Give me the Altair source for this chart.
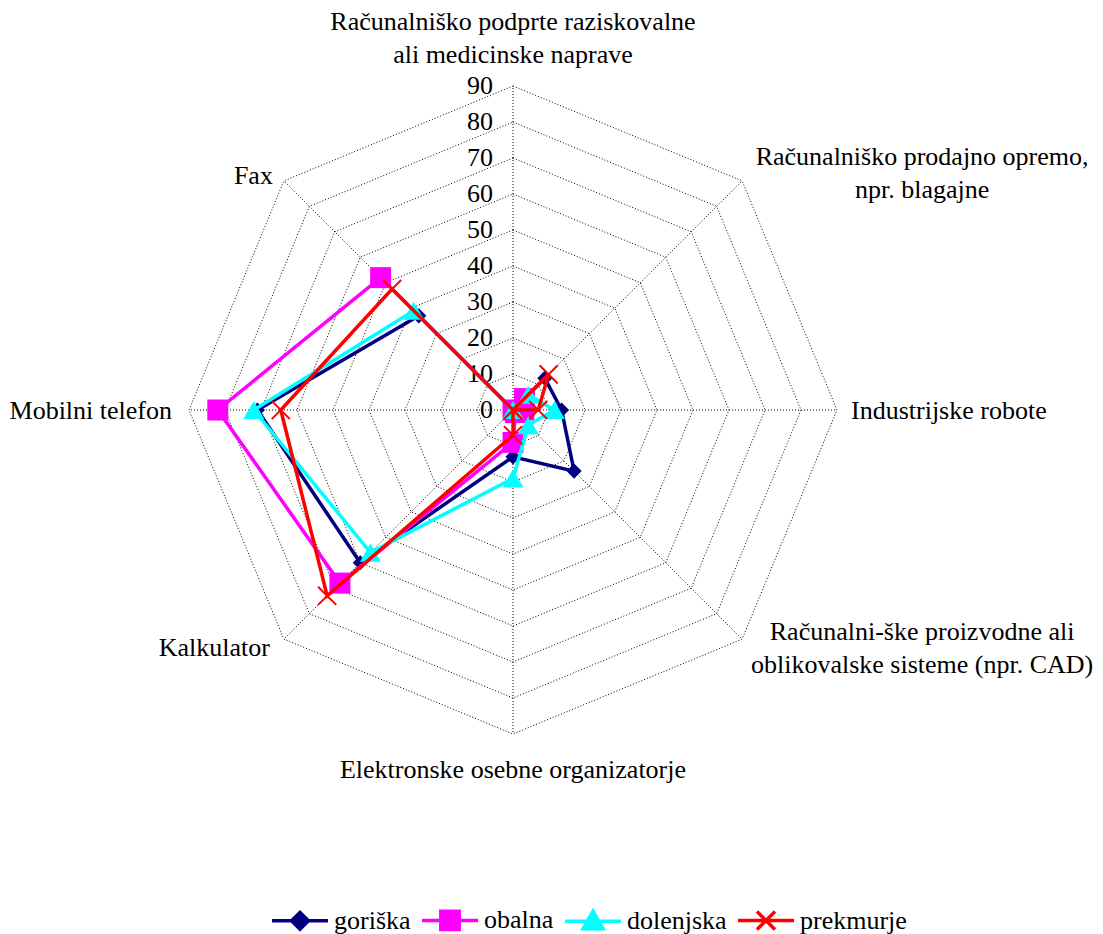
import altair as alt
import pandas as pd

# ---------------- data ----------------
categories = [
    "Računalniško podprte raziskovalne ali medicinske naprave",
    "Računalniško prodajno opremo, npr. blagajne",
    "Industrijske robote",
    "Računalni-ške proizvodne ali oblikovalske sisteme (npr. CAD)",
    "Elektronske osebne organizatorje",
    "Kalkulator",
    "Mobilni telefon",
    "Fax",
]
category_labels = [
    "Računalniško podprte raziskovalne\nali medicinske naprave",
    "Računalniško prodajno opremo,\nnpr. blagajne",
    "Industrijske robote",
    "Računalni-ške proizvodne ali\noblikovalske sisteme (npr. CAD)",
    "Elektronske osebne organizatorje",
    "Kalkulator",
    "Mobilni telefon",
    "Fax",
]
series_names = ["goriška", "obalna", "dolenjska", "prekmurje"]
goriska = [0, 12.5, 13.5, 24, 13, 60, 71, 37]
obalna = [0, 4.5, 3, 1, 9, 68, 82, 52]
dolenjska = [0, 6, 11.5, 6, 19, 56, 72, 39]
prekmurje = [0, 14, 7, 0, 7, 73, 64.5, 47.5]
tick_values = [0, 10, 20, 30, 40, 50, 60, 70, 80, 90]

series_values = [goriska, obalna, dolenjska, prekmurje]

# ---------------- tables ----------------
rows = []
for s, vals in zip(series_names, series_values):
    for i, v in enumerate(vals):
        rows.append({"series": s, "idx": i, "category": categories[i], "value": v})
series_df = pd.DataFrame(rows)

grid_df = pd.DataFrame(
    [{"level": lv, "idx": i, "value": lv} for lv in tick_values[1:] for i in range(len(categories))]
)
spoke_df = pd.DataFrame([{"idx": i, "value": tick_values[-1]} for i in range(len(categories))])
tick_df = pd.DataFrame({"value": tick_values, "label": [str(t) for t in tick_values]})
label_df = pd.DataFrame(
    {"idx": list(range(len(categories))), "label": category_labels, "value": tick_values[-1]}
)

# ---------------- styling / layout ----------------
FONT = "Liberation Serif"
FS = 26
W, H = 1087, 926
CX, CY, K = 505, 402, 3.6  # centre of the radar in plot px, px per unit
xs = alt.Scale(domain=[-CX / K, (W - CX) / K], nice=False, zero=False)
ys = alt.Scale(domain=[-(H - CY) / K, CY / K], nice=False, zero=False)

colors = ["#000080", "#FF00FF", "#00FFFF", "#FF0000"]
x_path = "M-1,-1L1,1M-1,1L1,-1"
marker_shapes = ["diamond", "square", "triangle-up", x_path]
marker_sizes = [230, 440, 440, 330]
legend_paths = [
    "M-1.4,0H1.4M0,-0.42L0.42,0L0,0.42L-0.42,0Z",
    "M-1.4,0H1.4M-0.46,-0.46H0.46V0.46H-0.46Z",
    "M-1.4,0H1.4M0,-0.5L0.5,0.38H-0.5Z",
    "M-1.4,0H1.4M-0.45,-0.45L0.45,0.45M-0.45,0.45L0.45,-0.45",
]


def polar(ch):
    return ch.transform_calculate(
        x="datum.value * sin(datum.idx * PI / 4)",
        y="datum.value * cos(datum.idx * PI / 4)",
    )


X = alt.X("x:Q", scale=xs, axis=None)
Y = alt.Y("y:Q", scale=ys, axis=None)

rings = polar(alt.Chart(grid_df)).mark_line(
    interpolate="linear-closed", color="black", strokeWidth=1, strokeDash=[1, 2]
).encode(x=X, y=Y, detail="level:N", order="idx:Q")

spokes = polar(alt.Chart(spoke_df)).transform_calculate(x0="0", y0="0").mark_rule(
    color="black", strokeWidth=1, strokeDash=[1, 2]
).encode(
    x=alt.X("x0:Q", scale=xs, axis=None),
    y=alt.Y("y0:Q", scale=ys, axis=None),
    x2="x:Q",
    y2="y:Q",
)

ticks = alt.Chart(tick_df).transform_calculate(x="0").mark_text(
    align="right", baseline="middle", dx=-20, font=FONT, fontSize=FS, color="black"
).encode(x=X, y=alt.Y("value:Q", scale=ys, axis=None), text="label:N")

# label placement per category: (align, dx, dy of first line)
label_style = [
    ("center", 0, -64),
    ("center", 180, -24),
    ("left", 14, 1),
    ("center", 180, -7),
    ("center", 0, 36),
    ("right", -14, 9),
    ("right", -17, 1),
    ("right", -11, -5),
]
label_layers = []
for i, (al, dx, dy) in enumerate(label_style):
    label_layers.append(
        polar(alt.Chart(label_df)).transform_filter(f"datum.idx == {i}").mark_text(
            align=al, baseline="middle", dx=dx, dy=dy, font=FONT, fontSize=FS,
            color="black", lineBreak="\n", lineHeight=33,
        ).encode(x=X, y=Y, text="label:N")
    )

series_layers = []
for s, c, shp, sz in zip(series_names, colors, marker_shapes, marker_sizes):
    base = polar(alt.Chart(series_df)).transform_filter(alt.datum.series == s)
    line = base.mark_line(interpolate="linear-closed", color=c, strokeWidth=3.5).encode(
        x=X, y=Y, order="idx:Q"
    )
    if shp == x_path:
        pts = base.mark_point(shape=shp, size=sz, filled=False, color=c, strokeWidth=2, opacity=1)
    else:
        pts = base.mark_point(shape=shp, size=sz, filled=True, color=c, opacity=1)
    series_layers += [line, pts.encode(x=X, y=Y)]

leg = alt.Legend(
    title=None, orient="none", legendX=270, legendY=890, direction="horizontal",
    labelFont=FONT, labelFontSize=FS, labelColor="black", labelLimit=0,
    symbolSize=1600, symbolStrokeWidth=3.5, symbolOpacity=1,
    labelOffset=12, columnPadding=4, padding=0,
)
legend_layer = polar(alt.Chart(series_df)).mark_point(opacity=0, strokeWidth=3.5).encode(
    x=X, y=Y,
    fill=alt.Fill("series:N", scale=alt.Scale(domain=series_names, range=colors), legend=leg),
    stroke=alt.Stroke("series:N", scale=alt.Scale(domain=series_names, range=colors), legend=leg),
    shape=alt.Shape("series:N", scale=alt.Scale(domain=series_names, range=legend_paths), legend=leg),
)

chart = alt.layer(
    rings, spokes, ticks, *label_layers, *series_layers, legend_layer
).properties(
    width=W, height=H, padding=0, autosize=alt.AutoSizeParams(type="none"),
    background="white",
).configure_view(stroke=None)

chart.save("out.html", embed_options={"renderer": "svg", "actions": False})
